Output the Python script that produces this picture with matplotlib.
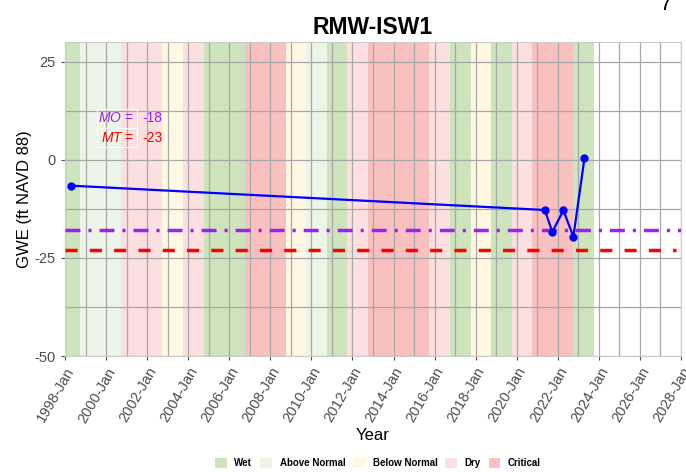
import pandas as pd
import matplotlib
matplotlib.use("Agg")
import matplotlib.pyplot as plt
import matplotlib.dates as mdates
from matplotlib.patches import Patch, Rectangle

plt.rcParams['font.family'] = ['Liberation Sans', 'DejaVu Sans']
plt.rcParams['mathtext.fontset'] = 'custom'
plt.rcParams['mathtext.it'] = 'Liberation Sans:italic'
plt.rcParams['mathtext.rm'] = 'Liberation Sans'

# measured groundwater elevation
obs_dates = pd.to_datetime(["1998-04-15", "2021-05-15", "2021-09-25",
                            "2022-04-10", "2022-10-05", "2023-04-20"])
obs_gwe = [-6.6, -12.8, -18.4, -12.9, -19.6, 0.4]

mo_value = -18
mt_value = -23

# water year types (Oct 1 - Sep 30)
water_years = list(range(1998, 2024))
wy_types = ["Wet", "Above Normal", "Above Normal", "Dry", "Dry", "Below Normal",
            "Dry", "Wet", "Wet", "Critical", "Critical", "Below Normal",
            "Above Normal", "Wet", "Dry", "Critical", "Critical", "Critical",
            "Dry", "Wet", "Below Normal", "Wet", "Dry", "Critical", "Critical",
            "Wet"]
type_names = ["Wet", "Above Normal", "Below Normal", "Dry", "Critical"]
type_colors = {"Wet": "#cde4bd", "Above Normal": "#edf5e9",
               "Below Normal": "#fff8e3", "Dry": "#fcdfe1",
               "Critical": "#f9c0c0"}

x_start = pd.Timestamp("1998-01-01")
x_end = pd.Timestamp("2028-01-01")
tick_years = list(range(1998, 2029, 2))

fig = plt.figure(figsize=(6.86, 4.72), dpi=100)
ax = fig.add_axes([65/686, 1-356/472, 616/686, 314/472])

for wy, kind in zip(water_years, wy_types):
    s = max(pd.Timestamp(f"{wy-1}-10-01"), x_start)
    e = pd.Timestamp(f"{wy}-10-01")
    ax.axvspan(s, e, color=type_colors[kind], lw=0, zorder=0.3)

ax.axhline(mo_value, color="#a020f0", lw=2.5, dashes=(4.3, 2.3, 0.9, 2.3), zorder=3)
ax.plot([x_start, pd.Timestamp("2027-10-01")], [mt_value, mt_value],
        color="red", lw=2.5, dashes=(3.5, 3.5), zorder=3)
ax.plot(obs_dates, obs_gwe, color="blue", lw=1.6, marker="o", ms=5, zorder=4)

ax.set_xlim(x_start, x_end)
ax.set_ylim(-50, 30)
ax.set_xticks([pd.Timestamp(f"{y}-01-01") for y in tick_years])
ax.set_xticks([pd.Timestamp(f"{y}-01-01") for y in range(1998, 2029)], minor=True)
ax.xaxis.set_major_formatter(mdates.DateFormatter("%Y-%b"))
ax.set_yticks([25, 0, -25, -50])
ax.set_yticks([12.5, -12.5, -37.5], minor=True)
ax.set_yticklabels(["25", "0", "-25", "-50"])

ax.set_axisbelow('line')
ax.grid(True, which="both", color="#a8a8a8", lw=0.9)
for sp in ax.spines.values():
    sp.set_color("#cccccc")
ax.tick_params(axis="both", which="major", colors="#4d4d4d", labelsize=10.5,
               length=3, width=0.8)
ax.tick_params(axis="both", which="minor", length=0)
plt.setp(ax.get_xticklabels(), rotation=60, ha="right", rotation_mode="anchor")

ax.set_xlabel("Year", fontsize=12, labelpad=2)
ax.set_ylabel("GWE (ft NAVD 88)", fontsize=12, labelpad=2)
ax.set_title("RMW-ISW1", fontsize=16.5, fontweight="bold", pad=6)

# MO / MT annotation table
for top in (109, 128):
    fig.patches.append(Rectangle((97/686, 1-(top+19)/472), 40/686, 19/472,
                                 transform=fig.transFigure, fill=False,
                                 edgecolor="white", lw=0.8, zorder=5))
fig.text(134/686, 1-118/472, r"$\mathit{MO}$ =", color="#a020f0", fontsize=10,
         ha="right", va="center")
fig.text(142/686, 1-118/472, f"{mo_value}", color="#a020f0", fontsize=10,
         ha="left", va="center")
fig.text(134/686, 1-138/472, r"$\mathit{MT}$ =", color="red", fontsize=10,
         ha="right", va="center")
fig.text(142/686, 1-138/472, f"{mt_value}", color="red", fontsize=10,
         ha="left", va="center")

fig.text(672/686, 1.012, "7", fontsize=16, ha="right", va="top")

handles = [Patch(facecolor=type_colors[n], edgecolor="none", label=n) for n in type_names]
leg = fig.legend(handles=handles, loc="center", bbox_to_anchor=(378/686, 1-463/472),
                 ncol=5, frameon=False, prop={"size": 7, "weight": "bold"},
                 handlelength=1.2, handleheight=1.3, handletextpad=0.8,
                 columnspacing=0.8)

fig.savefig("out.png", dpi=100)
